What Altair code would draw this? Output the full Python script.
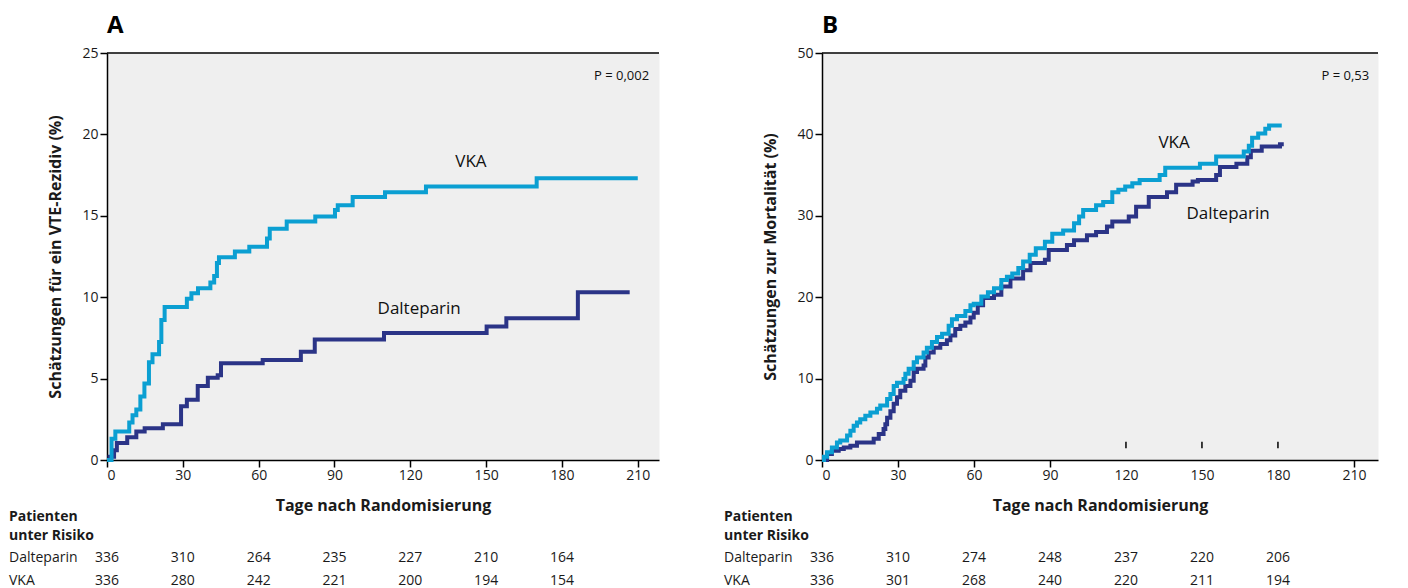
import altair as alt
import pandas as pd

# ---------------- data ----------------
x_ticks = [0, 30, 60, 90, 120, 150, 180, 210]
risk_days = [0, 30, 60, 90, 120, 150, 180]
risk_groups = ["Dalteparin", "VKA"]

# Panel A: VTE recurrence (%)
a_vka_day = [0, 1.8, 3.3, 8.8, 10.1, 11.6, 13.2, 14.8, 16.6, 18.0, 20.6, 21.5, 22.8, 31.6, 33.4,
             36.0, 40.9, 42.4, 43.5, 44.3, 50.6, 56.3, 63.3, 64.4, 71.1, 82.4, 90.2, 91.3, 97.2,
             110.0, 126.2, 170.0, 210.0]
a_vka_pct = [0, 1.3, 1.75, 2.3, 2.75, 3.1, 3.9, 4.7, 6.0, 6.5, 7.25, 8.6, 9.4, 9.9, 10.25,
             10.55, 10.9, 11.3, 12.1, 12.45, 12.8, 13.1, 13.6, 14.2, 14.65, 14.95, 15.35, 15.65, 16.15,
             16.45, 16.8, 17.3, 17.3]
a_dal_day = [0, 1.0, 2.8, 3.9, 8.0, 11.6, 14.9, 22.1, 29.3, 31.6, 35.9, 39.9, 43.8, 45.1, 61.6,
             76.7, 82.2, 109.6, 150.2, 158.0, 186.3, 206.8]
a_dal_pct = [0, 0.2, 0.6, 1.05, 1.4, 1.75, 1.95, 2.2, 3.3, 3.7, 4.55, 5.05, 5.2, 5.95, 6.15,
             6.65, 7.4, 7.8, 8.2, 8.7, 10.3, 10.3]
a_risk_dal = [336, 310, 264, 235, 227, 210, 164]
a_risk_vka = [336, 280, 242, 221, 200, 194, 154]

# Panel B: mortality (%)
b_vka_day = [0, 0.8, 2.0, 3.9, 5.9, 7.2, 9.9, 11.2, 12.5, 13.8, 15.1, 17.1, 19.1, 21.7, 23.0,
             25.7, 27.0, 28.3, 29.6, 32.2, 32.9, 34.2, 36.2, 37.5, 40.1, 41.4, 43.4, 45.4, 47.4,
             50.0, 51.3, 53.3, 56.6, 58.6, 59.9, 62.9, 65.5, 67.9, 70.8, 73.0, 75.1, 77.5, 79.4,
             82.0, 84.4, 88.0, 90.9, 95.2, 99.5, 101.5, 103.1, 108.2, 111.0, 114.6, 117.0, 119.7,
             122.5, 125.4, 133.3, 135.5, 149.2, 155.6, 166.5, 168.5, 169.8, 172.2, 175.0, 176.5, 181.5]
b_vka_pct = [0, 0.4, 0.95, 1.55, 2.15, 2.4, 3.0, 3.6, 4.2, 4.6, 5.0, 5.45, 5.85, 6.3, 6.7,
             7.5, 8.1, 9.1, 9.5, 9.95, 10.6, 11.2, 12.0, 12.6, 13.2, 13.8, 14.5, 15.1, 15.5,
             16.5, 17.3, 17.7, 18.3, 19.0, 19.2, 20.1, 20.6, 21.1, 22.1, 22.5, 22.9, 23.6, 24.4,
             25.2, 26.0, 26.8, 27.8, 28.2, 29.1, 29.9, 30.7, 31.3, 31.7, 32.9, 33.2, 33.6,
             34.0, 34.4, 35.0, 35.9, 36.4, 37.3, 37.9, 38.6, 39.6, 40.1, 40.7, 41.1, 41.1]
b_dal_day = [0, 2.0, 3.9, 6.6, 8.6, 11.2, 13.8, 20.4, 22.4, 24.3, 25.0, 25.7, 27.0, 28.3, 29.6,
             30.9, 32.9, 34.9, 36.2, 37.5, 40.1, 40.8, 42.1, 44.1, 46.7, 49.3, 50.7, 52.6, 54.6,
             56.6, 58.6, 59.9, 61.5, 63.6, 67.9, 70.8, 74.4, 79.4, 82.3, 88.0, 89.5, 96.7, 99.5,
             104.6, 108.2, 112.5, 114.6, 121.1, 124.0, 129.0, 136.2, 139.8, 146.3, 148.4, 155.6,
             157.1, 163.6, 167.9, 169.3, 173.6, 180.8, 182.3]
b_dal_pct = [0, 0.75, 1.15, 1.35, 1.55, 1.75, 2.15, 2.6, 3.2, 3.8, 4.4, 5.2, 6.0, 6.9, 7.7,
             8.5, 9.1, 9.75, 10.8, 11.2, 11.6, 12.6, 13.2, 13.8, 14.25, 14.7, 15.3, 16.1, 16.5,
             16.9, 17.5, 18.1, 19.0, 19.9, 20.3, 21.3, 22.3, 23.3, 24.2, 24.6, 25.8, 26.4, 27.0,
             27.6, 28.0, 28.7, 29.3, 29.9, 31.1, 32.3, 32.9, 33.8, 34.2, 34.4, 35.0,
             36.0, 36.4, 37.2, 38.0, 38.5, 38.8, 38.8]
b_risk_dal = [336, 310, 274, 248, 237, 220, 206]
b_risk_vka = [336, 301, 268, 240, 220, 211, 194]
b_inner_tick_days = [120, 150, 180]

# ---------------- style ----------------
FONT = "Open Sans"
LIGHT = "#0b9fd2"
DARK = "#2b3487"
H = 407


def panel(letter, W, xmax, vka_d, vka_p, dal_d, dal_p, ymax, ystep, ytitle, ptext, p_pos,
          vka_lab, dal_lab, risk_dal, risk_vka, inner_ticks=None):
    xs = alt.Scale(domain=[0, xmax], nice=False, zero=False)
    ys = alt.Scale(domain=[0, ymax], nice=False, zero=False)
    rs1 = alt.Scale(domain=[0, 1], range=[H + 57, H + 76])
    rs2 = alt.Scale(domain=[0, 1], range=[H + 98, H + 121])
    df = pd.concat([
        pd.DataFrame({"day": dal_d, "pct": dal_p, "group": "Dalteparin"}),
        pd.DataFrame({"day": vka_d, "pct": vka_p, "group": "VKA"}),
    ])
    axis_common = dict(domainColor="black", domainWidth=1.5, tickColor="black", tickWidth=1.5,
                       tickSize=7, labelFont=FONT, labelFontSize=14, labelColor="#1a1a1a",
                       titleFont=FONT, titleFontSize=16, titleFontWeight="bold", titleColor="#1a1a1a",
                       grid=False)
    xaxis_kw = dict(axis_common)
    if inner_ticks is not None:
        xaxis_kw["tickOpacity"] = alt.condition("datum.value >= 120 && datum.value <= 180",
                                                alt.value(0), alt.value(1))
    xaxis = alt.Axis(values=x_ticks, title="Tage nach Randomisierung", labelPadding=1,
                     titlePadding=15, **xaxis_kw)
    yaxis = alt.Axis(values=list(range(0, ymax + 1, ystep)), title=ytitle, labelPadding=2,
                     titlePadding=18, **axis_common)

    X = alt.X("day:Q", scale=xs, axis=xaxis)

    curves = alt.Chart(df).mark_line(interpolate="step-after", strokeWidth=4,
                                     strokeJoin="miter", strokeCap="butt").encode(
        x=X,
        y=alt.Y("pct:Q", scale=ys, axis=yaxis),
        color=alt.Color("group:N", scale=alt.Scale(domain=["Dalteparin", "VKA"], range=[DARK, LIGHT]),
                        legend=None),
    )

    top = alt.Chart(pd.DataFrame({"k": [0]})).mark_rule(color="black", strokeWidth=1.5).encode(
        x=alt.value(0), x2=alt.value(W), y=alt.value(0))

    labs = pd.DataFrame({"day": [vka_lab[0], dal_lab[0]], "pct": [vka_lab[1], dal_lab[1]],
                         "t": ["VKA", "Dalteparin"]})
    line_labels = alt.Chart(labs).mark_text(font=FONT, fontSize=17, color="#111",
                                            align="center", baseline="middle").encode(
        x=X, y=alt.Y("pct:Q", scale=ys, axis=None), text="t:N")

    pdf = pd.DataFrame({"day": [p_pos[0]], "pct": [p_pos[1]], "t": [ptext]})
    p_label = alt.Chart(pdf).mark_text(font=FONT, fontSize=13, color="#111",
                                       align="right", baseline="middle").encode(
        x=X, y=alt.Y("pct:Q", scale=ys, axis=None), text="t:N")

    layers = [curves, top, line_labels, p_label]

    # risk table
    head = alt.Chart(pd.DataFrame({"t": ["Patienten", "unter Risiko"], "r": [0, 1]})).mark_text(
        font=FONT, fontSize=14, fontWeight="bold", color="#1a1a1a", align="left",
        baseline="middle").encode(
        x=alt.value(-98), y=alt.Y("r:Q", scale=rs1, axis=None), text="t:N")
    rows = alt.Chart(pd.DataFrame({"t": risk_groups, "r": [0, 1]})).mark_text(
        font=FONT, fontSize=14, color="#1a1a1a", align="left", baseline="middle").encode(
        x=alt.value(-98), y=alt.Y("r:Q", scale=rs2, axis=None), text="t:N")
    rdf = pd.concat([
        pd.DataFrame({"day": risk_days, "n": risk_dal, "r": 0}),
        pd.DataFrame({"day": risk_days, "n": risk_vka, "r": 1}),
    ])
    nums = alt.Chart(rdf).mark_text(font=FONT, fontSize=14, color="#1a1a1a", align="center",
                                    baseline="middle").encode(
        x=X, y=alt.Y("r:Q", scale=rs2, axis=None), text="n:Q")
    layers += [head, rows, nums]

    if inner_ticks is not None:
        tdf = pd.DataFrame({"day": inner_ticks, "lo": [1.45] * len(inner_ticks),
                            "hi": [2.25] * len(inner_ticks)})
        layers.append(alt.Chart(tdf).mark_rule(color="black", strokeWidth=1.5).encode(
            x=X, y=alt.Y("lo:Q", scale=ys, axis=None), y2="hi:Q"))

    return alt.layer(*layers).resolve_scale(y="independent").properties(
        width=W, height=H,
        title=alt.TitleParams(text=letter, anchor="start", frame="group", fontSize=24,
                              fontWeight="bold", font=FONT, color="black", offset=8))


A = panel("A", 552, 218.4, a_vka_day, a_vka_pct, a_dal_day, a_dal_pct, 25, 5,
          "Schätzungen für ein VTE-Rezidiv (%)", "P = 0,002", (214.5, 23.6),
          (144, 18.3), (123.5, 9.3), a_risk_dal, a_risk_vka)
B = panel("B", 556, 219.5, b_vka_day, b_vka_pct, b_dal_day, b_dal_pct, 50, 10,
          "Schätzungen zur Mortalität (%)", "P = 0,53", (216, 47.2),
          (139, 38.9), (160.3, 30.2), b_risk_dal, b_risk_vka, inner_ticks=b_inner_tick_days)

chart = alt.hconcat(A, B, spacing=62).configure_view(
    fill="#efefef", stroke="transparent").properties(
    padding={"left": 0, "top": 5, "right": 5, "bottom": 0}, background="white")

chart.save("out.html", embed_options={"renderer": "svg", "actions": False})
